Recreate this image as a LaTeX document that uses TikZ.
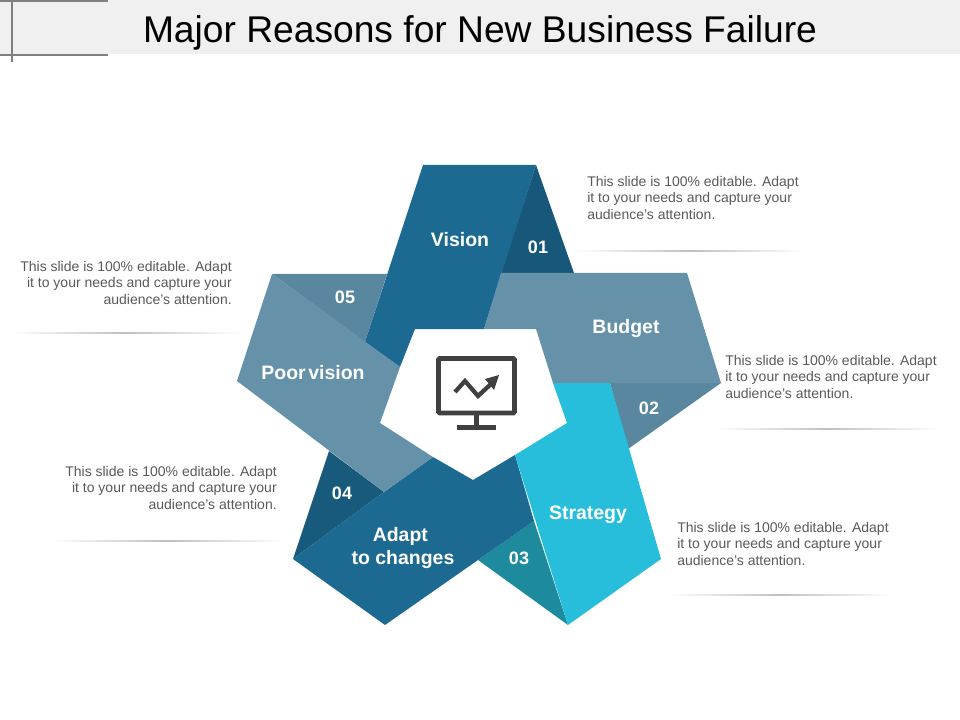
\documentclass[tikz,border=0pt]{standalone}
\usepackage{fontspec}
\setmainfont{Liberation Sans}
\usetikzlibrary{positioning,calc}
\definecolor{bardeep}{RGB}{28,106,145}
\definecolor{bardark}{RGB}{23,88,122}
\definecolor{barsteel}{RGB}{101,146,169}
\definecolor{barshade}{RGB}{90,135,160}
\definecolor{barcyan}{RGB}{39,190,220}
\definecolor{barteal}{RGB}{30,138,158}
\definecolor{bodygray}{RGB}{89,89,89}
\definecolor{icongray}{RGB}{64,64,64}
\tikzset{
  barlabel/.style={text=white,font=\fontsize{14.6}{17.25}\selectfont\bfseries,align=center},
  numlabel/.style={text=white,font=\fontsize{13.5}{16}\selectfont\bfseries},
  bodyright/.style={text=bodygray,font=\fontsize{10.5}{12.4}\selectfont,align=right,anchor=north east,inner sep=0pt},
  bodyleft/.style={text=bodygray,font=\fontsize{10.5}{12.4}\selectfont,align=left,anchor=north west,inner sep=0pt},
  fadeline/.style={left color=white,right color=white,middle color=black!25}
}
\begin{document}
\begin{tikzpicture}[x=0.75pt,y=-0.75pt]
      \useasboundingbox (0,0) rectangle (960,720);
      % title bar
      \fill[black!6] (0,0) rectangle (960,54);
      \draw[black!50,line width=1pt] (0,1) -- (108,1);
      \draw[black!50,line width=1pt] (0,55) -- (108,55);
      \draw[black!50,line width=1pt] (12,0) -- (12,62);
      \node (title) at (480,33) {\fontsize{27.9}{32}\selectfont Major Reasons for New Business Failure};

      % folded triangles
      \fill[bardark] (536,165) -- (574,273) -- (501,273) -- cycle;
      \fill[barshade] (610,383) -- (721,383) -- (628,449) -- cycle;
      \fill[barteal] (534,521) -- (568,625) -- (478,560) -- cycle;
      \fill[bardark!90!bardeep] (329,451) -- (384,492) -- (293,559) -- cycle;
      \fill[barshade] (272,274) -- (387,274) -- (365,342) -- cycle;

      % bands
      \fill[bardeep] (423,165) -- (536,165) -- (484,329) -- (415,329) -- (400,367) -- (365,342) -- cycle;
      \fill[barsteel] (501,273) -- (687,273) -- (721,383) -- (553,383) -- (536,329) -- (484,329) -- cycle;
      \fill[bardeep] (433,457) -- (473,480) -- (515,455) -- (534,521) -- (478,560) -- (385,625) -- (293,559) -- (384,492) -- cycle;
      \fill[barcyan] (553,383) -- (610,383) -- (661,559) -- (568,625) -- (515,455) -- (567,423) -- cycle;
      \fill[barsteel] (272,274) -- (400,367) -- (380,423) -- (433,457) -- (384,492) -- (237,381) -- cycle;

      % monitor icon
      \draw[icongray,line width=3.6pt,rounded corners=1pt] (438.5,358.5) rectangle (514.5,413);
      \draw[icongray,line width=3.4pt] (476.5,415) -- (476.5,427);
      \fill[icongray] (457,425) rectangle (496,430);
      \draw[icongray,line width=3.2pt] (455,392) -- (465,381) -- (478,396) -- (491,384);
      \fill[icongray] (485,379) -- (499,375) -- (494,390) -- cycle;

      \node[barlabel] (vision) at (460,239.5) {Vision};
      \node[barlabel] (budget) at (626,328.5) {Budget};
      \node[barlabel] (strategy) at (588,514.5) {Strategy};
      \node[barlabel] (adapt) at (403,548) {Adapt\kern4pt\\to changes};
      \node[barlabel] (poor) at (313,372.5) {Poor\kern-2.2pt\ vision};
      \node[numlabel] (num1) at (538,247) {01};
      \node[numlabel] (num2) at (649,408) {02};
      \node[numlabel] (num3) at (519,558) {03};
      \node[numlabel] (num4) at (342,493) {04};
      \node[numlabel] (num5) at (345,297) {05};

      \node[bodyleft] (text1) at (587,176) {This slide is 100\% editable. Adapt\\it to your needs and capture your\\audience's attention.};
      \node[bodyleft] (text2) at (725,355) {This slide is 100\% editable. Adapt\\it to your needs and capture your\\audience's attention.};
      \node[bodyleft] (text3) at (677,522) {This slide is 100\% editable. Adapt\\it to your needs and capture your\\audience's attention.};
      \node[bodyright] (text4) at (277,466) {This slide is 100\% editable. Adapt\\it to your needs and capture your\\audience's attention.};
      \node[bodyright] (text5) at (232,261) {This slide is 100\% editable. Adapt\\it to your needs and capture your\\audience's attention.};

      \shade[fadeline] (575,250.8) rectangle (805,251.5);
      \shade[fadeline] (715,428.3) rectangle (940,429);
      \shade[fadeline] (668,594.8) rectangle (893,595.5);
      \shade[fadeline] (50,540.8) rectangle (285,541.5);
      \shade[fadeline] (10,332.3) rectangle (240,333);
    \end{tikzpicture}
\end{document}
